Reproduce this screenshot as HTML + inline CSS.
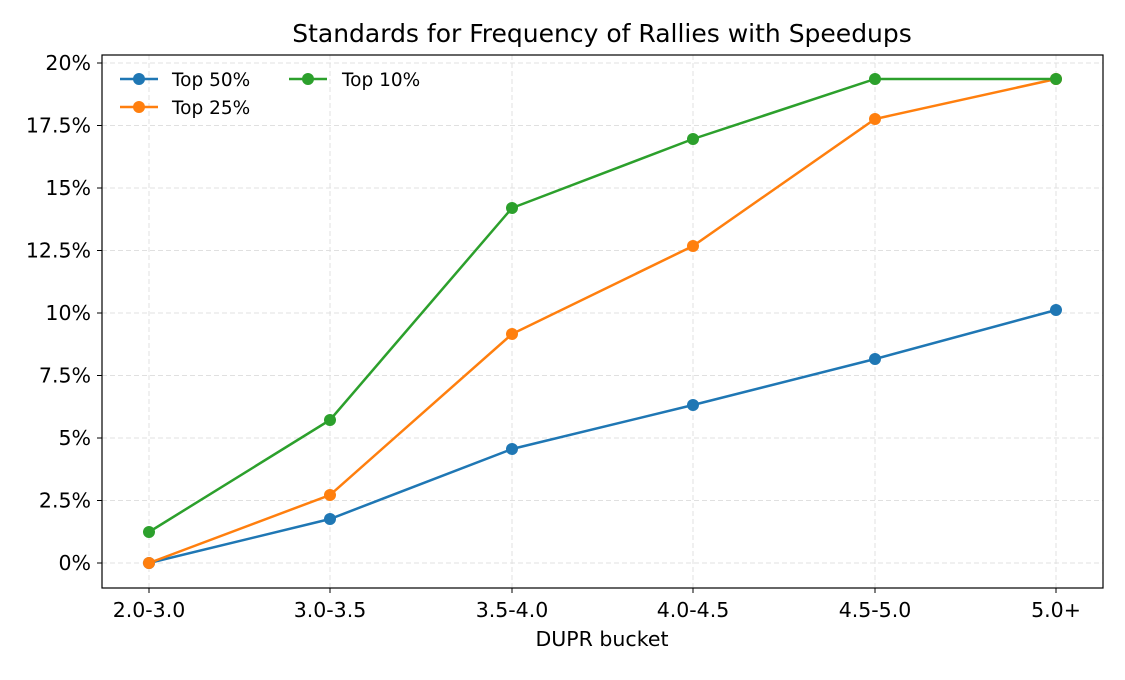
<!DOCTYPE html>
<html><head><meta charset="utf-8"><style>body{margin:0;background:#fff}</style></head><body>
<svg width="1125" height="675" xmlns="http://www.w3.org/2000/svg" font-family="DejaVu Sans, Liberation Sans, sans-serif">
<rect width="1125" height="675" fill="#fff"/>
<g stroke="#e0e0e0" stroke-dasharray="5,3" stroke-width="1">
<line x1="149" y1="55" x2="149" y2="588"/><line x1="330" y1="55" x2="330" y2="588"/><line x1="512" y1="55" x2="512" y2="588"/><line x1="693" y1="55" x2="693" y2="588"/><line x1="875" y1="55" x2="875" y2="588"/><line x1="1056" y1="55" x2="1056" y2="588"/>
<line x1="102" y1="563" x2="1103" y2="563"/><line x1="102" y1="500.5" x2="1103" y2="500.5"/><line x1="102" y1="438" x2="1103" y2="438"/><line x1="102" y1="375.5" x2="1103" y2="375.5"/><line x1="102" y1="313" x2="1103" y2="313"/><line x1="102" y1="250.5" x2="1103" y2="250.5"/><line x1="102" y1="188" x2="1103" y2="188"/><line x1="102" y1="125.5" x2="1103" y2="125.5"/><line x1="102" y1="63" x2="1103" y2="63"/>
</g>
<g fill="none" stroke-width="2.5">
<polyline stroke="#1f77b4" points="149,563 330,519 512,449 693,405 875,359 1056,310"/>
<polyline stroke="#ff7f0e" points="149,563 330,495 512,334 693,246 875,119 1056,79"/>
<polyline stroke="#2ca02c" points="149,532 330,420 512,208 693,139 875,79 1056,79"/>
</g>
<g fill="#1f77b4"><circle cx="149" cy="563" r="6"/><circle cx="330" cy="519" r="6"/><circle cx="512" cy="449" r="6"/><circle cx="693" cy="405" r="6"/><circle cx="875" cy="359" r="6"/><circle cx="1056" cy="310" r="6"/></g>
<g fill="#ff7f0e"><circle cx="149" cy="563" r="6"/><circle cx="330" cy="495" r="6"/><circle cx="512" cy="334" r="6"/><circle cx="693" cy="246" r="6"/><circle cx="875" cy="119" r="6"/><circle cx="1056" cy="79" r="6"/></g>
<g fill="#2ca02c"><circle cx="149" cy="532" r="6"/><circle cx="330" cy="420" r="6"/><circle cx="512" cy="208" r="6"/><circle cx="693" cy="139" r="6"/><circle cx="875" cy="79" r="6"/><circle cx="1056" cy="79" r="6"/></g>
<rect x="102" y="55" width="1001" height="533" fill="none" stroke="#000" stroke-width="1.2"/>
<g stroke="#000"><line x1="149" y1="588" x2="149" y2="593"/><line x1="330" y1="588" x2="330" y2="593"/><line x1="512" y1="588" x2="512" y2="593"/><line x1="693" y1="588" x2="693" y2="593"/><line x1="875" y1="588" x2="875" y2="593"/><line x1="1056" y1="588" x2="1056" y2="593"/>
<line x1="97" y1="563" x2="102" y2="563"/><line x1="97" y1="500.5" x2="102" y2="500.5"/><line x1="97" y1="438" x2="102" y2="438"/><line x1="97" y1="375.5" x2="102" y2="375.5"/><line x1="97" y1="313" x2="102" y2="313"/><line x1="97" y1="250.5" x2="102" y2="250.5"/><line x1="97" y1="188" x2="102" y2="188"/><line x1="97" y1="125.5" x2="102" y2="125.5"/><line x1="97" y1="63" x2="102" y2="63"/></g>
<g font-size="20.5" fill="#000" text-anchor="middle"><text x="149" y="617">2.0-3.0</text><text x="330" y="617">3.0-3.5</text><text x="512" y="617">3.5-4.0</text><text x="693" y="617">4.0-4.5</text><text x="875" y="617">4.5-5.0</text><text x="1056" y="617">5.0+</text></g>
<g font-size="20.5" fill="#000" text-anchor="end"><text x="91" y="570">0%</text><text x="91" y="507.5">2.5%</text><text x="91" y="445">5%</text><text x="91" y="382.5">7.5%</text><text x="91" y="320">10%</text><text x="91" y="257.5">12.5%</text><text x="91" y="195">15%</text><text x="91" y="132.5">17.5%</text><text x="91" y="70">20%</text></g>
<text x="602" y="646" font-size="20.5" text-anchor="middle">DUPR bucket</text>
<text x="602" y="42" font-size="25" text-anchor="middle">Standards for Frequency of Rallies with Speedups</text>
<g stroke-width="2.5"><line x1="120" y1="79" x2="158" y2="79" stroke="#1f77b4"/><line x1="120" y1="107" x2="158" y2="107" stroke="#ff7f0e"/><line x1="289" y1="79" x2="327" y2="79" stroke="#2ca02c"/></g>
<circle cx="139" cy="79" r="6" fill="#1f77b4"/><circle cx="139" cy="107" r="6" fill="#ff7f0e"/><circle cx="308" cy="79" r="6" fill="#2ca02c"/>
<g font-size="18.5"><text x="172" y="86">Top 50%</text><text x="172" y="114">Top 25%</text><text x="342" y="86">Top 10%</text></g>
</svg>
</body></html>
